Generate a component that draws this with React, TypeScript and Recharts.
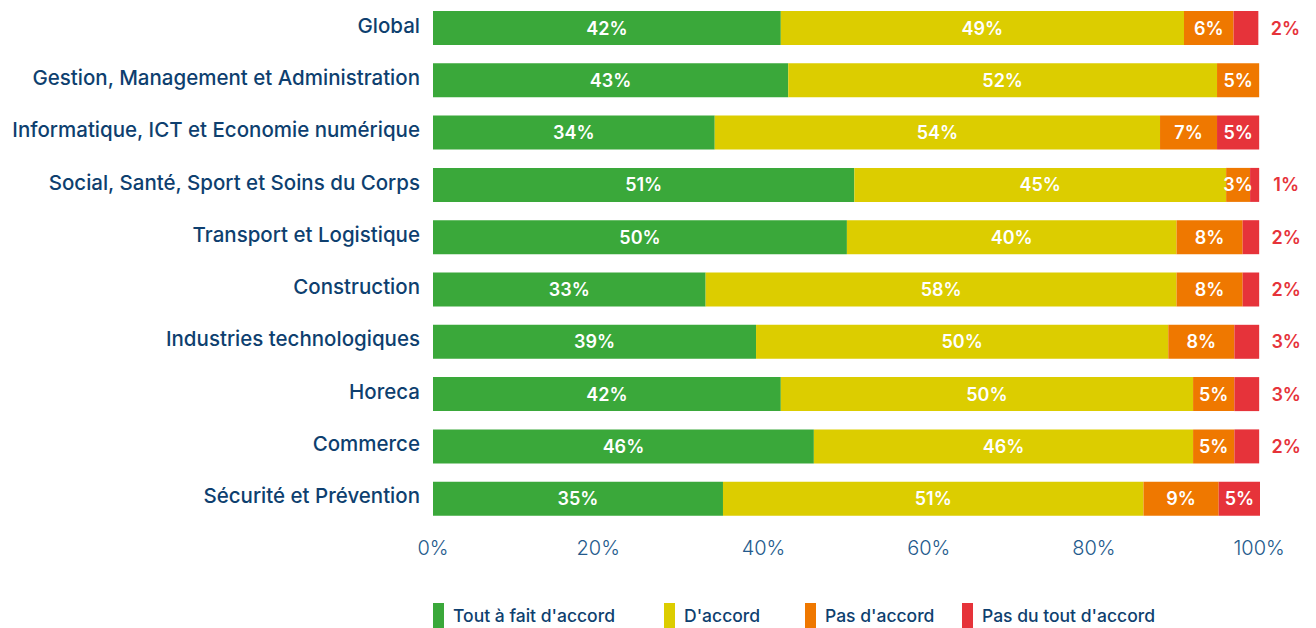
import React from "react";
import { Bar, BarChart, LabelList, XAxis, YAxis } from "recharts";

const categories = [
  "Global",
  "Gestion, Management et Administration",
  "Informatique, ICT et Economie numérique",
  "Social, Santé, Sport et Soins du Corps",
  "Transport et Logistique",
  "Construction",
  "Industries technologiques",
  "Horeca",
  "Commerce",
  "Sécurité et Prévention",
];

// bar widths
const toutAFait = [42.1, 43.0, 34.1, 51.0, 50.1, 33.0, 39.1, 42.1, 46.1, 35.1];
const dAccord = [48.8, 51.9, 53.9, 45.0, 39.9, 57.0, 49.9, 49.9, 45.9, 50.9];
const pasDAccord = [6.0, 5.1, 6.9, 2.9, 8.0, 8.0, 8.0, 5.0, 5.0, 9.1];
const pasDuTout = [3.0, 0, 5.1, 1.1, 2.0, 2.0, 3.0, 3.0, 3.0, 5.0];

// printed percentages
const shownToutAFait = [42, 43, 34, 51, 50, 33, 39, 42, 46, 35];
const shownDAccord = [49, 52, 54, 45, 40, 58, 50, 50, 46, 51];
const shownPasDAccord = [6, 5, 7, 3, 8, 8, 8, 5, 5, 9];
const shownPasDuTout = [2, 0, 5, 1, 2, 2, 3, 3, 2, 5];

const xTicks = [0, 20, 40, 60, 80, 100];

const series = [
  { key: "toutAFait", name: "Tout à fait d'accord", color: "#3aa83a" },
  { key: "dAccord", name: "D'accord", color: "#dccd00" },
  { key: "pasDAccord", name: "Pas d'accord", color: "#ef7800" },
  { key: "pasDuTout", name: "Pas du tout d'accord", color: "#e6333a" },
];

const data = categories.map((c, i) => ({
  name: c,
  toutAFait: toutAFait[i],
  dAccord: dAccord[i],
  pasDAccord: pasDAccord[i],
  pasDuTout: pasDuTout[i],
  toutAFait_lbl: shownToutAFait[i],
  dAccord_lbl: shownDAccord[i],
  pasDAccord_lbl: shownPasDAccord[i],
  pasDuTout_lbl: shownPasDuTout[i],
}));

const FONT = "Inter, 'Noto Sans', sans-serif";
const NAVY = "#0e3f6f";

const makeLabel = (outside: boolean) => (props: any) => {
  const x = Number(props.x);
  const y = Number(props.y);
  const width = Number(props.width);
  const height = Number(props.height);
  const v = Number(props.value);
  if (!v) return null;
  const out = outside && v < 4;
  return (
    <text
      x={out ? x + width + 27 : x + width / 2}
      y={y + height / 2}
      textAnchor="middle"
      dominantBaseline="central"
      fill={out ? "#e6333a" : "#ffffff"}
      fontFamily={FONT}
      fontWeight={600}
      fontSize={18}
    >
      {v + "%"}
    </text>
  );
};

const CategoryTick = (props: any) => {
  const { x, y, payload } = props;
  return (
    <text
      x={x}
      y={y - 3}
      textAnchor="end"
      dominantBaseline="central"
      fill={NAVY}
      fontFamily={FONT}
      fontWeight={500}
      fontSize={20.5}
    >
      {payload.value}
    </text>
  );
};

export default function App() {
  return (
    <div style={{ position: "absolute", left: 0, top: 0, width: 1316, height: 628, background: "#fff" }}>
      <BarChart
        width={1316}
        height={560}
        data={data}
        layout="vertical"
        margin={{ top: 2, right: 56, bottom: 5, left: 0 }}
      >
        <XAxis
          type="number"
          domain={[0, 100]}
          ticks={xTicks}
          tickFormatter={(v) => `${v}%`}
          axisLine={false}
          tickLine={false}
          tickMargin={10}
          height={30}
          tick={{ fontSize: 20, fill: "#245a8c", fontFamily: FONT, fontWeight: 300 }}
        />
        <YAxis
          type="category"
          dataKey="name"
          width={433}
          axisLine={false}
          tickLine={false}
          tickMargin={7}
          interval={0}
          tick={<CategoryTick />}
        />
        {series.map((s, si) => (
          <Bar
            key={s.key}
            dataKey={s.key}
            name={s.name}
            stackId="a"
            fill={s.color}
            barSize={34}
            isAnimationActive={false}
          >
            <LabelList dataKey={s.key + "_lbl"} content={makeLabel(si === 3)} />
          </Bar>
        ))}
      </BarChart>
      {series.map((s, i) => {
        const lefts = [433, 664, 805, 962];
        return (
          <div
            key={s.key}
            style={{
              position: "absolute",
              left: lefts[i],
              top: 603,
              height: 25,
              display: "flex",
              alignItems: "center",
              fontFamily: FONT,
              fontSize: 17.5,
              fontWeight: 500,
              color: NAVY,
              whiteSpace: "nowrap",
            }}
          >
            <span style={{ display: "inline-block", width: 11, height: 25, background: s.color, marginRight: 9 }} />
            <span>{s.name}</span>
          </div>
        );
      })}
    </div>
  );
}
